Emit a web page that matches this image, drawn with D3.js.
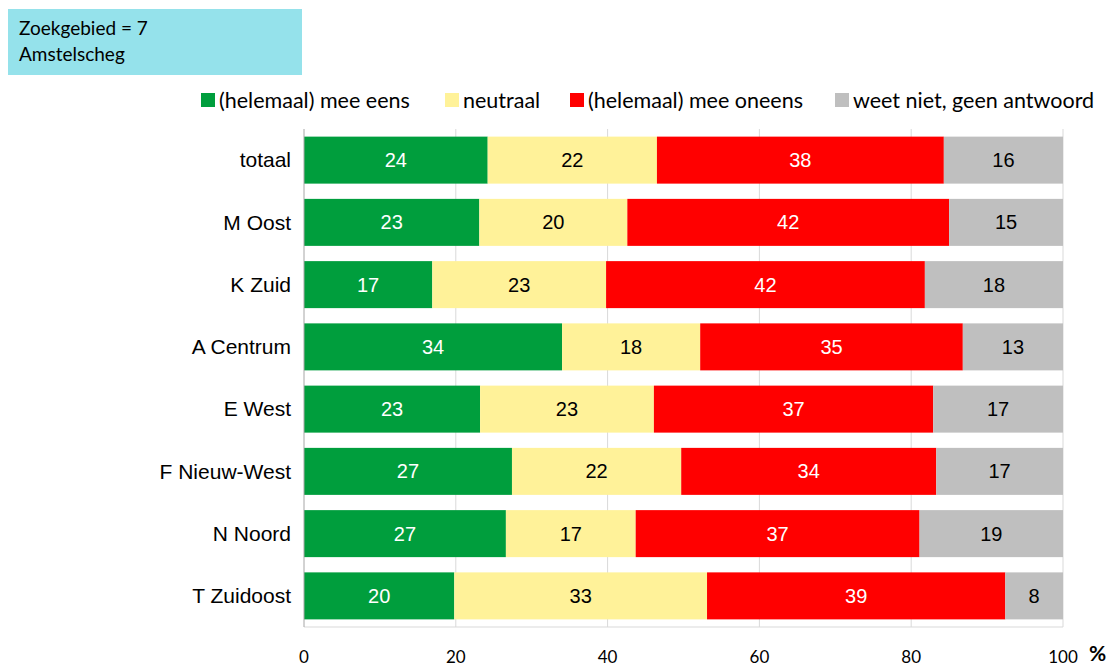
<!DOCTYPE html>
<html>
<head>
<meta charset="utf-8">
<script src="https://cdn.jsdelivr.net/npm/d3@7/dist/d3.min.js"></script>
<style>
	body { margin:0; background:#fff; }
	#chart svg { display:block; }
	.cat text { font-family:"Liberation Sans", Arial, sans-serif; font-size:21px; fill:#000; }
	.val { font-family:"Liberation Sans", Arial, sans-serif; font-size:20px; }
	.leg { font-family:Lato, "Open Sans", sans-serif; font-size:21.5px; fill:#000; }
	.tick-lbl { font-family:Lato, "Open Sans", sans-serif; font-size:17px; fill:#000; }
</style>
</head>
<body>
<div id="chart"></div>
<script>

//data
const categories = ["totaal", "M Oost", "K Zuid", "A Centrum", "E West", "F Nieuw-West", "N Noord", "T Zuidoost"];
const seriesNames = ["(helemaal) mee eens", "neutraal", "(helemaal) mee oneens", "weet niet, geen antwoord"];
const eens   = [24.2, 23.1, 16.9, 34.0, 23.2, 27.4, 26.6, 19.8];
const neutr  = [22.3, 19.5, 22.9, 18.2, 22.9, 22.3, 17.1, 33.3];
const oneens = [37.8, 42.4, 42.0, 34.6, 36.8, 33.6, 37.4, 39.3];
const weet   = [15.7, 15.0, 18.2, 13.2, 17.1, 16.7, 18.9,  7.6];
const xTicks = [0, 20, 40, 60, 80, 100];

const colors = ["#009e3d", "#fff299", "#ff0000", "#bfbfbf"];
const textColors = ["#fff", "#000", "#fff", "#000"];

//sizing
const width = 1116, height = 668;
const margin = {top:129, right:53, bottom:41, left:304};

let svg = d3.select("#chart")
	.append("svg")
	.attr("width", width)
	.attr("height", height);

//title box
svg.append("rect")
	.attr("x", 8).attr("y", 9)
	.attr("width", 294).attr("height", 66)
	.attr("fill", "#95e2eb");

svg.append("text")
	.attr("class", "leg")
	.attr("x", 19).attr("y", 35)
	.style("font-size", "19px")
	.text("Zoekgebied = 7");

svg.append("text")
	.attr("class", "leg")
	.attr("x", 19).attr("y", 61)
	.style("font-size", "19px")
	.text("Amstelscheg");

//scales
const xScale = d3.scaleLinear()
	.domain([0, 100])
	.range([margin.left, width - margin.right]);

const yScale = d3.scaleBand()
	.domain(categories)
	.range([margin.top, height - margin.bottom])
	.paddingInner(0.245)
	.paddingOuter(0.1225);

//gridlines
svg.append("g")
	.selectAll("line")
	.data(xTicks.slice(1))
	.enter()
	.append("line")
	.attr("x1", d => xScale(d))
	.attr("x2", d => xScale(d))
	.attr("y1", margin.top)
	.attr("y2", height - margin.bottom)
	.attr("stroke", "#d9d9d9")
	.attr("stroke-width", 1);

//bottom frame
svg.append("line")
	.attr("x1", margin.left).attr("x2", width - margin.right)
	.attr("y1", height - margin.bottom).attr("y2", height - margin.bottom)
	.attr("stroke", "#d9d9d9");

//stack
const rows = categories.map((c, i) => ({cat:c, s0:eens[i], s1:neutr[i], s2:oneens[i], s3:weet[i]}));
const stack = d3.stack().keys(["s0", "s1", "s2", "s3"]);
const stacked = stack(rows);

const layers = svg.selectAll(".layer")
	.data(stacked)
	.enter()
	.append("g")
	.attr("class", "layer")
	.attr("fill", (d, i) => colors[i]);

layers.selectAll("rect")
	.data(d => d)
	.enter()
	.append("rect")
	.attr("x", d => xScale(d[0]))
	.attr("y", d => yScale(d.data.cat))
	.attr("width", d => xScale(d[1]) - xScale(d[0]))
	.attr("height", yScale.bandwidth());

//value labels
stacked.forEach((layer, i) => {
	svg.append("g")
		.selectAll("text")
		.data(layer)
		.enter()
		.append("text")
		.attr("class", "val")
		.attr("x", d => (xScale(d[0]) + xScale(d[1])) / 2)
		.attr("y", d => yScale(d.data.cat) + yScale.bandwidth() / 2)
		.attr("dy", "0.35em")
		.attr("text-anchor", "middle")
		.attr("fill", textColors[i])
		.text(d => Math.round(d[1] - d[0]));
});

//y axis
const yAxis = d3.axisLeft(yScale).tickSize(0).tickPadding(13);
const gy = svg.append("g")
	.attr("class", "cat")
	.attr("transform", `translate(${margin.left},0)`)
	.call(yAxis);
gy.select(".domain")
	.attr("stroke", "#a6a6a6")
	.attr("d", `M0,${margin.top}V${height - margin.bottom}`);
gy.selectAll("text").attr("dy", "0.35em").attr("font-family", null).attr("font-size", null);

//x tick labels
svg.append("g")
	.selectAll("text")
	.data(xTicks)
	.enter()
	.append("text")
	.attr("class", "tick-lbl")
	.attr("x", d => xScale(d))
	.attr("y", 663)
	.attr("text-anchor", "middle")
	.text(d => d);

svg.append("text")
	.attr("class", "tick-lbl")
	.attr("x", 1089)
	.attr("y", 661)
	.style("font-weight", "bold")
	.style("font-size", "21px")
	.text("%");

//legend
const legendX = [201, 445, 570, 835];
const legend = svg.selectAll(".legend")
	.data(seriesNames)
	.enter()
	.append("g")
	.attr("class", "legend");

legend.append("rect")
	.attr("x", (d, i) => legendX[i])
	.attr("y", 93)
	.attr("width", 14)
	.attr("height", 14)
	.attr("fill", (d, i) => colors[i]);

legend.append("text")
	.attr("class", "leg")
	.attr("x", (d, i) => legendX[i] + 18)
	.attr("y", 100)
	.attr("dy", "0.35em")
	.text(d => d);

</script>
</body>
</html>
